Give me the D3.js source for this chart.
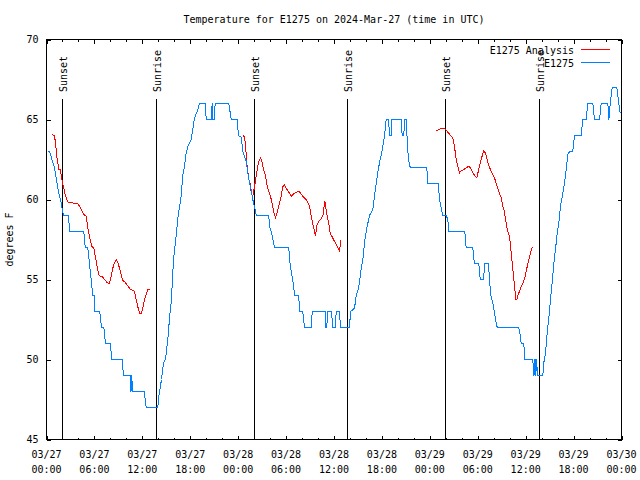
<!DOCTYPE html>
<html>
<head>
<meta charset="utf-8">
<script src="https://cdn.jsdelivr.net/npm/d3@7"></script>
<style>
  body { margin: 0; background: #fff; }
  text { font-family: "DejaVu Sans Mono", monospace; font-size: 10px; fill: #000; }
</style>
</head>
<body>
<script>
// hours since 2024-03-27 00:00 UTC
const obsHours = [0.13,0.38,0.75,1.00,1.25,1.50,1.75,1.94,2.13,2.72,2.92,4.67,4.85,5.17,5.38,5.80,6.01,6.07,6.67,6.89,7.18,7.39,7.98,8.18,9.48,9.64,10.48,10.58,10.67,10.77,10.93,12.23,12.48,13.94,14.06,14.40,14.65,14.90,15.24,15.40,15.65,15.82,15.99,16.15,16.32,16.49,16.82,17.07,17.28,17.49,17.69,18.12,18.32,18.53,18.95,19.16,19.87,20.00,20.62,20.75,20.82,21.00,21.12,22.83,23.13,23.88,24.04,24.38,24.58,25.01,25.21,25.42,25.63,25.83,26.11,26.26,27.84,27.92,28.14,28.34,28.55,30.34,30.43,30.64,30.84,30.97,31.09,31.59,31.68,32.09,32.31,33.15,33.27,34.90,34.97,35.10,35.19,35.69,35.85,36.15,36.28,36.69,36.81,37.94,38.07,38.57,38.78,38.98,39.19,39.41,39.61,39.82,40.03,40.23,40.45,40.66,40.86,41.07,41.28,41.49,41.70,41.91,42.11,42.32,42.54,42.86,42.92,43.16,43.26,44.42,44.54,44.74,44.83,45.04,45.24,45.45,45.67,47.62,47.75,49.05,49.21,49.46,49.62,50.05,50.25,50.38,52.38,52.55,53.38,53.51,53.63,54.13,54.31,54.72,54.89,55.35,55.47,55.64,55.89,56.10,56.31,56.44,59.14,59.32,59.44,59.77,59.89,60.89,61.04,61.17,61.27,61.36,61.48,62.15,62.27,62.48,62.70,62.90,63.11,63.32,63.52,63.74,63.95,64.15,64.36,64.53,64.65,64.86,65.08,65.28,65.49,65.90,66.12,66.95,67.16,67.58,67.78,68.41,68.62,69.25,69.46,70.29,70.42,70.59,70.84,71.41,71.66,71.84];
const obsTemps = [63,63,62.4,62,61.2,60.5,60,59.5,59,59,58,58,57,57,56,54,54,53,53,52,52,51,51,50,50,49,49,48,49,48,48,48,47,47,47.7,48.75,49.8,50,51.5,52.6,53.75,55.5,56.7,57.3,58.2,59,60,61.5,62.1,62.9,63.3,63.75,64.4,65.1,65.6,66,66,65,65,66,65,65,66,66,65,65,64,63.9,63,62.4,61.7,61,60.6,60,59.4,59,59,58.3,58,57.5,57,57,56.25,55.5,55,54.4,54,54,53,53,52,52,53,53,52,52,53,53,52,52,53,53,52,52,53,53.2,54,54.3,54.8,55.7,56.25,57.3,58,58.5,59,59.2,59.4,60.2,61,61.7,62.3,62.8,63.3,64,65,65,64,64,65,65,64,64,65,65,63,62.1,62,62,61,61,60,59.4,59,59,58.75,58,58,57,57,56.25,56,56,55,55,56,56,55,54,53.5,52.9,52.3,52,52,51.5,51,51,50,50,49,50,49,50,49,49,49.8,50.4,51.7,52.6,53.75,54.8,56,56.9,57.9,58.5,59.6,60,60.4,61,61.9,62.8,63,63,64,64,65,65,66,66,65,65,66,66,65,66,67,67,66,65.4];

const anaHours1 = [0.66,1.00,1.13,1.29,1.54,1.72,1.92,2.13,2.29,2.47,2.63,3.09,3.92,4.13,4.55,4.76,4.97,5.17,5.38,5.60,5.72,5.92,6.14,6.35,6.55,6.76,6.97,7.26,7.60,7.89,8.10,8.30,8.51,8.73,8.93,9.14,9.35,9.55,9.89,10.18,10.48,10.81,11.02,11.23,11.43,11.65,11.86,12.06,12.27,12.48,12.68,12.99];
const anaTemps1 = [64.06,64,63.5,62.7,61.9,61.9,61.25,60.8,60.4,60.1,59.85,59.8,59.72,59.6,59.2,59,58.96,58.2,57.7,57.2,57.04,57,56.35,55.8,55.3,55.2,55.2,55,54.8,54.75,55.2,55.7,56.04,56.25,56.1,55.7,55.3,54.96,54.8,54.6,54.4,54.3,54.27,53.75,53.3,52.9,52.9,53.2,53.75,54.06,54.4,54.4];
const anaHours2 = [24.61,24.79,24.92,25.08,25.33,25.51,25.63,25.83,26.05,26.26,26.46,26.67,26.80,26.96,27.17,27.42,27.64,27.84,28.05,28.26,28.46,28.68,28.89,29.09,29.30,29.59,29.80,30.02,30.43,30.64,30.93,31.27,31.59,31.81,32.09,32.52,32.72,32.93,33.15,33.35,33.56,33.68,33.85,34.06,34.31,34.60,34.72,34.85,34.94,35.10,35.35,35.52,35.73,35.94,36.15,36.35,36.56,36.69,36.81,36.90];
const anaTemps2 = [64,63.9,63.4,62.3,61.25,61,60.4,60.2,60.8,61.5,62.1,62.5,62.6,62.4,61.9,61.5,60.8,60.5,60.2,59.75,59.2,58.86,59.2,59.6,60,60.8,60.9,60.7,60.4,60.2,60.35,60.46,60.5,60.4,60.2,60,59.8,59.6,58.96,58.44,58,57.7,58.4,58.6,58.75,58.96,59.4,59.9,59.6,59.06,58.5,57.9,57.7,57.5,57.3,57.1,56.9,56.77,57.3,57.5];
const anaHours3 = [48.80,49.21,49.62,49.96,50.25,50.68,50.88,51.09,51.30,51.50,51.72,51.93,52.34,52.88,53.18,53.59,53.88,54.13,54.43,54.72,54.97,55.26,55.56,55.89,56.10,56.31,56.64,56.94,57.14,57.35,57.56,57.76,57.98,58.10,58.27,58.44,58.60,58.77,58.89,59.07,59.32,59.57,59.77,59.98,60.19,60.39,60.61,60.82,60.92];
const anaTemps3 = [64.3,64.4,64.45,64.4,64.2,63.96,63.85,63.3,62.5,62.1,61.67,61.8,61.9,62.08,61.9,61.5,61.35,61.9,62.5,63.02,62.9,62.3,61.9,61.56,61.35,61,60.5,60.1,59.6,59.2,58.5,58,57.7,57.1,56.25,55.4,54.6,53.75,53.75,54.06,54.4,54.7,54.9,55.3,55.8,56.25,56.67,57,57];

const sunLabels = ["Sunset", "Sunrise", "Sunset", "Sunrise", "Sunset", "Sunrise"];
const sunHours = [1.92, 13.74, 25.96, 37.60, 49.88, 61.65];

const yTicks = [45, 50, 55, 60, 65, 70];
const seriesNames = ["E1275 Analysis", "E1275"];
const seriesColors = ["#ff0000", "#0080ff"];

const width = 640;
const height = 480;
const margin = { top: 39.5, right: 18.5, bottom: 40.5, left: 46.5 };

const start = Date.UTC(2024, 2, 27);
const toDate = h => new Date(start + h * 3600e3);

const svg = d3.select("body")
  .append("svg")
  .attr("width", width)
  .attr("height", height)
  .attr("shape-rendering", "crispEdges");

const x = d3.scaleUtc()
  .domain([toDate(0), toDate(72)])
  .range([margin.left, width - margin.right]);

const y = d3.scaleLinear()
  .domain([45, 70])
  .range([height - margin.bottom, margin.top]);

// title
svg.append("text")
  .attr("x", 334)
  .attr("y", 23)
  .attr("text-anchor", "middle")
  .text("Temperature for E1275 on 2024-Mar-27 (time in UTC)");

// y label
svg.append("text")
  .attr("transform", `translate(13, ${(margin.top + height - margin.bottom) / 2}) rotate(-90)`)
  .attr("text-anchor", "middle")
  .text("degrees F");

// axes: ticks point inward
const minorTicks = d3.range(0, 73, 2).filter(h => h % 6 !== 0).map(toDate);
const majorTicks = d3.range(0, 73, 6).map(toDate);

function xTicks(axisFn, yPos, vals, size) {
  svg.append("g")
    .attr("transform", `translate(0, ${yPos})`)
    .call(axisFn(x).tickValues(vals).tickSize(-size).tickFormat(""))
    .call(g => g.select(".domain").remove());
}
xTicks(d3.axisBottom, height - margin.bottom, minorTicks, 2);
xTicks(d3.axisBottom, height - margin.bottom, majorTicks, 4);
xTicks(d3.axisTop, margin.top, minorTicks, 2);
xTicks(d3.axisTop, margin.top, majorTicks, 4);

// x labels, two lines
const fmtDay = d3.utcFormat("%m/%d");
const fmtTime = d3.utcFormat("%H:%M");
const xl = svg.append("g");
majorTicks.forEach(d => {
  const t = xl.append("text")
    .attr("x", x(d))
    .attr("y", 458)
    .attr("text-anchor", "middle");
  t.append("tspan").attr("x", x(d)).text(fmtDay(d));
  t.append("tspan").attr("x", x(d)).attr("dy", 15).text(fmtTime(d));
});

svg.append("g")
  .attr("transform", `translate(${margin.left}, 0)`)
  .call(d3.axisLeft(y).tickValues(yTicks).tickSize(-4).tickPadding(8))
  .call(g => g.select(".domain").remove())
  .call(g => g.selectAll("text").style("font-family", "'DejaVu Sans Mono', monospace").style("font-size", "10px"));

svg.append("g")
  .attr("transform", `translate(${width - margin.right}, 0)`)
  .call(d3.axisRight(y).tickValues(yTicks).tickSize(-4).tickFormat(""))
  .call(g => g.select(".domain").remove());

// frame
svg.append("rect")
  .attr("x", margin.left)
  .attr("y", margin.top)
  .attr("width", width - margin.left - margin.right)
  .attr("height", height - margin.top - margin.bottom)
  .attr("fill", "none")
  .attr("stroke", "#000");

// sunrise / sunset markers
sunHours.forEach((h, i) => {
  const sx = Math.round(x(toDate(h))) + 0.5;
  svg.append("line")
    .attr("x1", sx).attr("x2", sx)
    .attr("y1", 99).attr("y2", height - margin.bottom)
    .attr("stroke", "#000");
  svg.append("text")
    .attr("transform", `translate(${sx + 4}, 92) rotate(-90)`)
    .text(sunLabels[i]);
});

const line = d3.line()
  .x(d => x(toDate(d[0])))
  .y(d => y(d[1]));

// analysis (red), three runs
[[anaHours1, anaTemps1], [anaHours2, anaTemps2], [anaHours3, anaTemps3]].forEach(([hs, ts]) => {
  svg.append("path")
    .datum(hs.map((h, i) => [h, ts[i]]))
    .attr("fill", "none")
    .attr("stroke", seriesColors[0])
    .attr("stroke-width", 1)
    .attr("d", line);
});

// observed (blue)
svg.append("path")
  .datum(obsHours.map((h, i) => [h, obsTemps[i]]))
  .attr("fill", "none")
  .attr("stroke", seriesColors[1])
  .attr("stroke-width", 1)
  .attr("d", line);

// legend
seriesNames.forEach((name, i) => {
  const ly = 50 + i * 13;
  svg.append("text")
    .attr("x", 574)
    .attr("y", ly + 4)
    .attr("text-anchor", "end")
    .text(name);
  svg.append("line")
    .attr("x1", 581).attr("x2", 610)
    .attr("y1", ly - 0.5).attr("y2", ly - 0.5)
    .attr("stroke", seriesColors[i]);
});
</script>
</body>
</html>
